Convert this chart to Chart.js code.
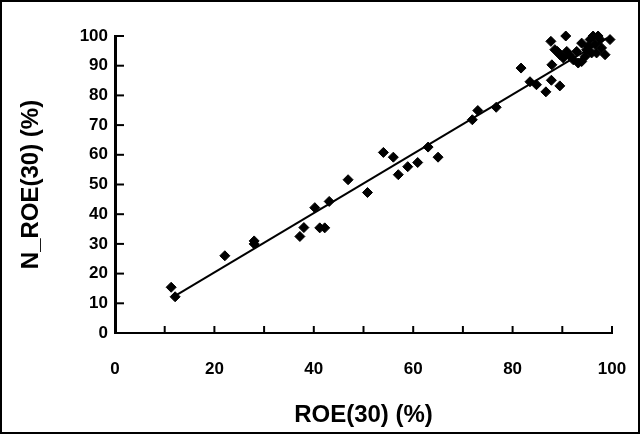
<!DOCTYPE html>
<html lang="en">
<head>
    <meta charset="UTF-8">
    <title>ROE scatter</title>
    <script src="https://cdn.jsdelivr.net/npm/chart.js"></script>
    <style>
        html, body { margin: 0; padding: 0; background: #fff; }
        #wrap { width: 640px; height: 434px; }
    </style>
</head>
<body>
<div id="wrap"><canvas id="graph" width="640" height="434"></canvas></div>
<script>
    // values
    var roeX = [11.3, 12.1, 22.1, 28, 28, 37.2, 38, 41.2, 42.2, 40.2, 43.1, 46.9, 50.8, 54, 56, 57, 58.9, 60.9, 63, 65,
        71.9, 73, 76.7, 81.7, 83.5, 84.8, 86.7, 87.8, 87.9, 89.5, 87.7, 90.7,
        89, 90.2, 91.5, 92.2, 93.9, 93.9, 95.6, 96.2, 97.2, 97.6, 94.9, 95.9, 97.9, 98.6, 99.6,
        92.9, 96.9, 94.6, 90.9, 89.5, 88.5, 96.6, 95.2, 93.2];
    var nRoeY = [15.4, 12.2, 26, 31, 30, 32.5, 35.5, 35.4, 35.4, 42.2, 44.3, 51.6, 47.3, 60.8, 59.2, 53.3, 56, 57.4, 62.6, 59.2,
        71.8, 74.9, 76, 89.2, 84.6, 83.6, 81.2, 85.1, 90.3, 83.2, 98.2, 100,
        94.8, 92.6, 93.4, 92, 91.4, 97.6, 98.8, 100, 100, 98.8, 95.4, 94.3, 96, 93.7, 98.8,
        94.8, 94.3, 93.1, 94.8, 93.7, 95.4, 97.1, 96.5, 90.9];
    var trendX = [12, 99];
    var trendY = [12.4, 99.3];
    var xTicks = [0, 20, 40, 60, 80, 100];

    var points = roeX.map(function (x, i) { return { x: x, y: nRoeY[i] }; });
    var trend = trendX.map(function (x, i) { return { x: x, y: trendY[i] }; });

    // frame around the picture and short inward tick marks
    var extras = {
        id: 'extras',
        beforeDraw: function (chart) {
            var c = chart.ctx;
            c.save();
            c.fillStyle = '#fff';
            c.fillRect(0, 0, chart.width, chart.height);
            c.strokeStyle = '#000';
            c.lineWidth = 2;
            c.strokeRect(1, 1, chart.width - 2, chart.height - 2);
            c.restore();
        },
        afterDraw: function (chart) {
            var c = chart.ctx, xs = chart.scales.x, ys = chart.scales.y;
            c.save();
            c.strokeStyle = '#000';
            c.lineWidth = 2;
            for (var v = 0; v <= 100; v += 10) {
                var px = xs.getPixelForValue(v);
                c.beginPath();
                c.moveTo(px, ys.bottom);
                c.lineTo(px, ys.bottom - 7);
                c.stroke();
                var py = ys.getPixelForValue(v);
                c.beginPath();
                c.moveTo(xs.left, py);
                c.lineTo(xs.left + 9, py);
                c.stroke();
            }
            c.restore();
        }
    };

    var tickFont = { family: 'Liberation Sans, Arial, sans-serif', size: 17, weight: 'bold' };
    var titleFont = { family: 'Liberation Sans, Arial, sans-serif', size: 24, weight: 'bold' };

    new Chart(document.getElementById('graph').getContext('2d'), {
        type: 'scatter',
        data: {
            datasets: [{
                label: 'N_ROE(30)',
                data: points,
                pointStyle: 'rectRot',
                pointRadius: 5,
                backgroundColor: '#000',
                borderColor: '#000',
                borderWidth: 1,
                clip: false,
                order: 1
            }, {
                type: 'line',
                label: 'trend',
                data: trend,
                borderColor: '#000',
                borderWidth: 2,
                pointRadius: 0,
                fill: false,
                order: 2
            }]
        },
        options: {
            responsive: false,
            animation: false,
            layout: { padding: { left: 0, top: 36, right: 28, bottom: 4 } },
            plugins: { legend: { display: false }, tooltip: { enabled: false } },
            scales: {
                x: {
                    type: 'linear',
                    min: 0, max: 100,
                    afterBuildTicks: function (s) { s.ticks = xTicks.map(function (v) { return { value: v }; }); },
                    grid: { display: false, tickLength: 0 },
                    border: { display: true, color: '#000', width: 2 },
                    ticks: { color: '#000', font: tickFont, padding: 26, maxRotation: 0 },
                    title: { display: true, text: 'ROE(30) (%)', color: '#000', font: titleFont, padding: { top: 9, bottom: 0 } },
                    afterFit: function (s) { s.height = 97; s.paddingLeft = 0; s.paddingRight = 0; }
                },
                y: {
                    min: 0, max: 100,
                    ticks: { stepSize: 10, color: '#000', font: tickFont, padding: 7 },
                    grid: { display: false, tickLength: 0 },
                    border: { display: true, color: '#000', width: 3 },
                    title: { display: true, text: 'N_ROE(30) (%)', color: '#000', font: titleFont, padding: { top: 17, bottom: 0 } },
                    afterFit: function (s) { s.width = 115; s.paddingTop = 0; s.paddingBottom = 0; }
                }
            }
        },
        plugins: [extras]
    });
</script>
</body>
</html>
